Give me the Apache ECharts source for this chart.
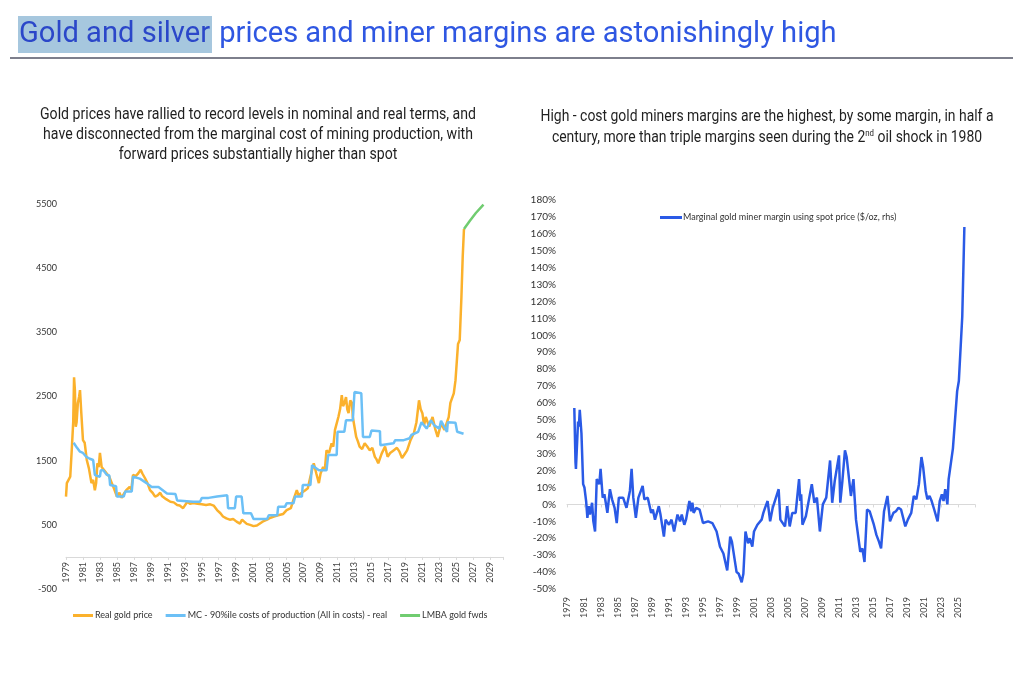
<!DOCTYPE html>
<html><head><meta charset="utf-8">
<script src="https://cdn.jsdelivr.net/npm/echarts@6/dist/echarts.min.js"></script>
<style>html,body{margin:0;padding:0;background:#fff}#c{width:1024px;height:679px}</style>
</head><body><div id="c"></div>
<script>
const BASE_YEAR = 1979;
const TITLE_HL = 'Gold and silver';
const TITLE_REST = ' prices and miner margins are astonishingly high';
const LEFT_SUB = ['Gold prices have rallied to record levels in nominal and real terms, and',
  'have disconnected from the marginal cost of mining production, with',
  'forward prices substantially higher than spot'];
const RIGHT_SUB1 = 'High - cost gold miners margins are the highest, by some margin, in half a';
const RIGHT_SUB2 = ['century, more than triple margins seen during the 2', 'nd', ' oil shock in 1980'];
const seriesNames = ['Real gold price', 'MC - 90%ile costs of production (All in costs) - real', 'LMBA gold fwds',
  'Marginal gold miner margin using spot price ($/oz, rhs)'];

const goldYears = [1979.0,1979.1,1979.3,1979.5,1979.7,1979.85,1979.95,1980.05,1980.15,1980.25,1980.4,1980.55,1980.65,1980.8,1981.0,1981.2,1981.45,1981.7,1982.0,1982.2,1982.4,1982.55,1982.7,1982.85,1983.0,1983.2,1983.5,1983.8,1984.1,1984.4,1984.7,1985.0,1985.3,1985.55,1985.8,1986.1,1986.5,1986.7,1986.9,1987.2,1987.5,1987.8,1988.0,1988.3,1988.6,1988.9,1989.2,1989.5,1989.8,1990.1,1990.3,1990.5,1990.8,1991.0,1991.3,1991.7,1992.1,1992.4,1992.8,1993.0,1993.3,1993.6,1994.0,1994.5,1995.0,1995.5,1996.0,1996.4,1996.8,1997.2,1997.5,1997.9,1998.3,1998.7,1999.1,1999.5,1999.75,2000.0,2000.3,2000.7,2001.1,2001.5,2001.9,2002.3,2002.7,2003.1,2003.5,2004.0,2004.2,2004.6,2005.0,2005.5,2005.8,2006.2,2006.4,2006.6,2006.9,2007.2,2007.5,2007.8,2008.2,2008.5,2008.8,2009.0,2009.3,2009.5,2009.7,2010.0,2010.3,2010.5,2010.7,2011.1,2011.3,2011.5,2011.65,2011.8,2012.0,2012.15,2012.3,2012.5,2012.7,2012.8,2013.0,2013.2,2013.4,2013.6,2013.9,2014.2,2014.5,2014.8,2015.1,2015.4,2015.6,2015.8,2016.2,2016.6,2016.9,2017.2,2017.6,2018.0,2018.3,2018.6,2018.9,2019.2,2019.6,2020.0,2020.3,2020.6,2020.8,2021.0,2021.2,2021.4,2021.8,2022.2,2022.5,2022.8,2023.2,2023.4,2023.6,2023.9,2024.1,2024.3,2024.7,2024.9,2025.2,2025.4,2025.6,2025.75,2025.9];
const goldPrice = [940,1150,1170,1250,1720,2100,2800,2600,2030,2100,2400,2500,2600,2250,1820,1780,1510,1380,1150,1200,1040,1150,1460,1400,1620,1400,1350,1300,1250,1150,1050,940,1000,920,980,1040,1090,1050,1280,1260,1300,1360,1300,1230,1150,1040,1000,940,960,1000,950,920,900,880,860,850,810,800,760,790,860,830,840,830,820,810,820,800,730,680,630,600,580,590,550,520,580,550,515,500,480,490,525,560,580,610,630,650,680,670,730,760,890,1040,960,990,1010,1040,1070,1250,1460,1300,1150,1300,1400,1350,1660,1620,1770,1720,1980,2180,2300,2520,2350,2390,2490,2300,2240,2440,2400,2180,2150,1870,1800,1720,1680,1770,1720,1660,1700,1560,1520,1460,1610,1720,1560,1620,1660,1700,1640,1540,1600,1660,1820,1930,2100,2440,2300,2240,2050,2180,2030,2180,2000,1870,2080,2100,1980,2100,2180,2400,2550,2750,3320,3380,4050,4670,5110];

const mcYears = [1979.9,1980.3,1980.65,1981.0,1981.4,1981.8,1982.2,1982.4,1982.7,1983.0,1983.1,1983.4,1983.8,1984.1,1984.2,1984.9,1985.0,1985.8,1986.0,1986.75,1986.9,1987.7,1988.5,1989.1,1989.9,1990.1,1990.9,1991.9,1992.1,1994.0,1994.8,1995.0,1995.8,1996.0,1996.8,1997.0,1998.0,1998.1,1998.9,1999.05,1999.7,1999.9,2000.8,2001.1,2002.7,2002.9,2003.9,2004.0,2004.8,2005.0,2005.8,2006.0,2006.8,2006.9,2007.8,2008.0,2008.8,2009.7,2009.9,2010.9,2011.0,2011.8,2012.0,2012.8,2013.0,2013.8,2014.0,2014.8,2015.0,2016.0,2016.05,2017.6,2017.8,2018.8,2019.0,2019.5,2019.7,2020.5,2020.9,2021.5,2022.0,2022.4,2023.0,2023.2,2023.9,2024.0,2024.9,2025.1,2025.85];
const mcCost = [1780,1700,1640,1620,1560,1530,1510,1280,1260,1250,1350,1350,1280,1270,1120,1100,940,940,1020,1020,1250,1220,1150,1090,1090,1070,990,980,880,860,860,920,920,940,940,960,960,760,760,940,940,680,680,590,590,650,650,780,780,835,835,940,940,1120,1120,1430,1350,1350,1590,1590,1950,1950,2130,2130,2570,2550,1870,1870,1970,1960,1740,1770,1820,1820,1850,1850,1900,1950,2100,2000,2130,2050,2000,2120,1950,2100,2090,1950,1920];

const fwdYears = [2025.9,2026.6,2027.3,2028.2];
const fwdPrice = [5110,5240,5360,5490];

const marginYears = [1979.86,1980.0,1980.05,1980.15,1980.3,1980.4,1980.5,1980.7,1980.9,1981.05,1981.25,1981.4,1981.55,1981.7,1981.95,1982.1,1982.3,1982.5,1982.65,1982.8,1982.95,1983.2,1983.4,1983.75,1984.05,1984.3,1984.6,1984.85,1985.1,1985.6,1986.0,1986.2,1986.4,1986.6,1986.8,1987.1,1987.4,1987.9,1988.1,1988.5,1988.9,1989.1,1989.35,1989.8,1990.0,1990.4,1990.6,1991.0,1991.3,1991.6,1992.0,1992.3,1992.5,1992.8,1993.0,1993.4,1993.6,1993.75,1993.9,1994.2,1994.6,1995.0,1995.6,1996.1,1996.6,1997.0,1997.4,1997.85,1998.2,1998.4,1998.6,1998.95,1999.2,1999.55,1999.75,2000.0,2000.3,2000.5,2000.8,2001.0,2001.4,2001.9,2002.1,2002.3,2002.6,2002.9,2003.2,2003.9,2004.1,2004.65,2004.9,2005.2,2005.5,2005.9,2006.3,2006.45,2006.55,2006.7,2007.1,2007.8,2008.1,2008.4,2008.75,2009.1,2009.5,2009.95,2010.2,2010.5,2011.0,2011.15,2011.4,2011.7,2011.9,2012.4,2012.7,2013.0,2013.5,2013.75,2014.0,2014.3,2014.6,2015.1,2015.4,2015.7,2015.95,2016.3,2016.7,2017.0,2017.4,2017.7,2018.0,2018.3,2018.8,2019.1,2019.5,2019.8,2020.1,2020.4,2020.7,2020.9,2021.2,2021.4,2021.65,2021.9,2022.2,2022.6,2022.85,2023.1,2023.3,2023.5,2023.75,2023.9,2024.1,2024.4,2024.6,2024.9,2025.1,2025.3,2025.5,2025.6,2025.75];
const marginPct = [57,25,21,20,49,46,56,42,12,10,2,-8,-1,-6,1,-10,-16,15,16,12,21,4,6,-5,9,3,-2,-11,4,4,-2,-3,8,21,4,-8,4,11,3,4,-5,-3,-9,-1,-6,-19,-9,-12,-9,-16,-6,-10,-6,-12,-9,2,-4,1,-5,-2,-3,-11,-10,-11,-16,-25,-29,-39,-19,-22,-21,-40,-41,-46,-41,-16,-23,-20,-25,-16,-12,-9,-5,-2,2,-10,-2,9,-9,-13,-1,-13,-5,-5,15,2,6,-12,-7,12,1,4,-16,0,4,26,1,14,29,1,14,32,28,5,15,-9,-28,-26,-34,-3,-4,-12,-18,-22,-26,-4,5,-10,-5,-4,-2,-3,-13,-9,-5,5,3,12,28,22,8,3,5,2,-3,-10,2,6,2,9,0,15,14,33,32,67,73,74,111,112,164];

const pair = (xs, ys) => xs.map((x, i) => [x - BASE_YEAR, ys[i]]);

const chart = echarts.init(document.getElementById('c'));

const ctx = document.createElement('canvas').getContext('2d');
function measure(text, font) { ctx.font = font; return ctx.measureText(text).width; }
const SUB_FONT = '16px Roboto';
const leftScale = 436 / measure(LEFT_SUB[0], SUB_FONT);
const rightScale = 453 / measure(RIGHT_SUB1, SUB_FONT);
const titleSize = Math.round(28 * 816 / measure(TITLE_HL + TITLE_REST, '28px Roboto') * 10) / 10;

const subText = (text, x, y, sc, extra) => Object.assign({
  type: 'text', x: x, y: y, scaleX: sc,
  style: { text: text, font: SUB_FONT, fill: '#1f1f1f', align: 'center', verticalAlign: 'middle' }
}, extra || {});

const xLabel = (maxOff, margin) => ({
  rotate: 90, fontSize: 9, color: '#444', fontFamily: 'Lato', margin: margin,
  formatter: v => (v % 2 === 0 && v <= maxOff) ? String(BASE_YEAR + v) : ''
});

// left grid geometry: y of value 0 measured from grid bottom
const LEFT_TOP = 204, LEFT_BOTTOM = 90, LEFT_MIN = -500, LEFT_MAX = 5500;
const leftH = 679 - LEFT_TOP - LEFT_BOTTOM;
const zeroOffset = -leftH * (0 - LEFT_MIN) / (LEFT_MAX - LEFT_MIN);

const option = {
  animation: false,
  backgroundColor: '#fff',
  title: [{
    text: '{h|' + TITLE_HL + '}{n|' + TITLE_REST + '}',
    left: 18, top: 17, padding: 0,
    textStyle: { fontWeight: 'normal', rich: {
      h: { backgroundColor: '#a6c7de', color: '#2b47c9', fontSize: titleSize, fontWeight: 'normal', fontFamily: 'Roboto', padding: [1, 2, 1, 1], height: 35, lineHeight: 35 },
      n: { color: '#2f57e2', fontSize: titleSize, fontWeight: 'normal', fontFamily: 'Roboto', lineHeight: 35 }
    } }
  }],
  graphic: [
    { type: 'line', shape: { x1: 10, y1: 58, x2: 1013, y2: 58 }, style: { stroke: '#7d7f8c', lineWidth: 2 } },
    subText(LEFT_SUB[0], 258, 115, leftScale),
    subText(LEFT_SUB[1], 258, 135, leftScale),
    subText(LEFT_SUB[2], 258, 155, leftScale),
    subText(RIGHT_SUB1, 767, 117, rightScale),
    subText('', 767, 138, rightScale, {
      style: { text: RIGHT_SUB2[0] + '{sup|' + RIGHT_SUB2[1] + '}' + RIGHT_SUB2[2], font: SUB_FONT, fill: '#1f1f1f', align: 'center', verticalAlign: 'middle',
        rich: { sup: { fontSize: 9, fontFamily: 'Roboto', verticalAlign: 'top', lineHeight: 18, padding: [0, 0, 6, 0] } } }
    })
  ],
  legend: [
    { data: seriesNames.slice(0, 3), left: 68, top: 606, icon: 'rect', itemWidth: 20, itemHeight: 3, itemGap: 13,
      textStyle: { fontSize: 9, color: '#333', fontFamily: 'Lato', padding: [0, 0, 0, -3] } },
    { data: [seriesNames[3]], left: 655, top: 208, icon: 'rect', itemWidth: 22, itemHeight: 3,
      textStyle: { fontSize: 9, color: '#333', fontFamily: 'Lato', padding: [0, 0, 0, -4] } }
  ],
  grid: [
    { left: 66, right: 1024 - 503, top: LEFT_TOP, bottom: LEFT_BOTTOM, containLabel: false },
    { left: 567, right: 49, top: 200, bottom: 90, containLabel: false }
  ],
  xAxis: [
    { type: 'value', gridIndex: 0, min: 0, max: 51.5, interval: 2, position: 'bottom', offset: zeroOffset,
      axisLine: { onZero: false, lineStyle: { color: '#d9d9d9', width: 1 } },
      axisTick: { show: true, length: 3, lineStyle: { color: '#d9d9d9' } },
      splitLine: { show: false }, axisLabel: xLabel(50, 5) },
    { type: 'value', gridIndex: 1, min: 0, max: 48, interval: 2, position: 'bottom',
      axisLine: { show: false, onZero: false }, axisTick: { show: false },
      splitLine: { show: false }, axisLabel: xLabel(46, 8) },
    { type: 'value', gridIndex: 1, min: 0, max: 48, interval: 2, position: 'top',
      axisLine: { onZero: true, lineStyle: { color: '#d9d9d9', width: 1 } },
      axisTick: { show: true, inside: true, length: 3, lineStyle: { color: '#d9d9d9' } },
      splitLine: { show: false }, axisLabel: { show: false } }
  ],
  yAxis: [
    { type: 'value', gridIndex: 0, min: LEFT_MIN, max: LEFT_MAX, interval: 500,
      axisLine: { show: false }, axisTick: { show: false }, splitLine: { show: false },
      axisLabel: { fontSize: 9, color: '#333', fontFamily: 'Lato', margin: 9,
        formatter: v => ((v + 500) % 1000 === 0 ? String(v) : '') } },
    { type: 'value', gridIndex: 1, min: -50, max: 180, interval: 10,
      axisLine: { show: false }, axisTick: { show: false }, splitLine: { show: false },
      axisLabel: { fontSize: 10, color: '#333', fontFamily: 'Lato', margin: 11, formatter: v => v + '%' } }
  ],
  series: [
    { name: seriesNames[0], type: 'line', xAxisIndex: 0, yAxisIndex: 0, data: pair(goldYears, goldPrice),
      showSymbol: false, lineStyle: { color: '#fbb12c', width: 2.5 }, itemStyle: { color: '#fbb12c' }, z: 2 },
    { name: seriesNames[1], type: 'line', xAxisIndex: 0, yAxisIndex: 0, data: pair(mcYears, mcCost),
      showSymbol: false, lineStyle: { color: '#6cc0f6', width: 2.5 }, itemStyle: { color: '#6cc0f6' }, z: 3 },
    { name: seriesNames[2], type: 'line', xAxisIndex: 0, yAxisIndex: 0, data: pair(fwdYears, fwdPrice),
      showSymbol: false, lineStyle: { color: '#70cc70', width: 2.5 }, itemStyle: { color: '#70cc70' }, z: 3 },
    { name: seriesNames[3], type: 'line', xAxisIndex: 1, yAxisIndex: 1, data: pair(marginYears, marginPct),
      showSymbol: false, lineStyle: { color: '#2a5ae6', width: 2.5 }, itemStyle: { color: '#2a5ae6' }, z: 3 }
  ]
};
chart.setOption(option);
</script></body></html>
